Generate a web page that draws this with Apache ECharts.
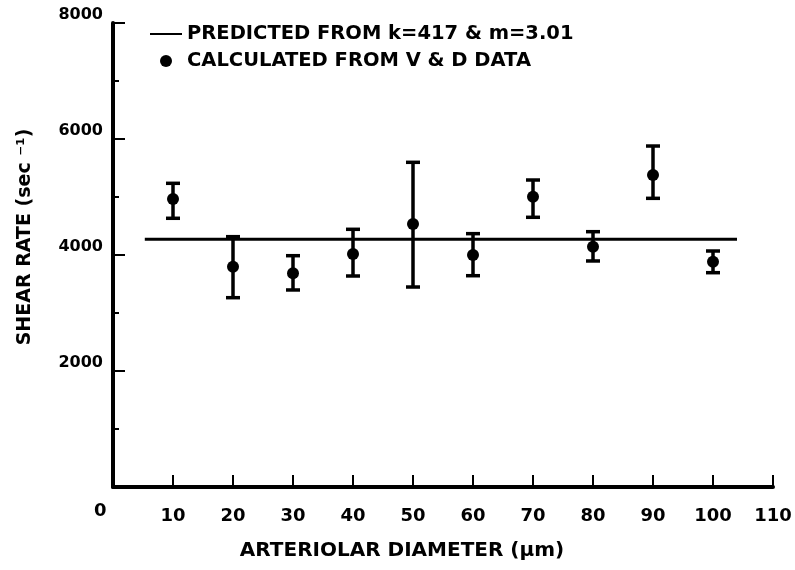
<!DOCTYPE html>
<html>
<head>
<meta charset="utf-8">
<script src="https://cdn.jsdelivr.net/npm/echarts@6/dist/echarts.min.js"></script>
<style>
  html, body { margin: 0; padding: 0; background: #fff; }
  #shearChart { width: 795px; height: 570px; }
</style>
</head>
<body>
<div id="shearChart"></div>
<script>
// arteriolar diameter (um) and shear rate (1/sec)
var diameters = [10, 20, 30, 40, 50, 60, 70, 80, 90, 100];
var shearRate = [4966, 3798, 3684, 4017, 4534, 4000, 5005, 4143, 5379, 3885];
var errHigh   = [5236, 4316, 3988, 4443, 5598, 4368, 5293, 4402, 5879, 4069];
var errLow    = [4633, 3264, 3397, 3638, 3448, 3643, 4650, 3897, 4977, 3695];
// predicted line (k=417, m=3.01)
var predictedX = [5.3, 104];
var predictedY = [4270, 4270];

var FONT = 'DejaVu Sans';
var LINE_NAME = 'PREDICTED FROM k=417 & m=3.01';
var DOT_NAME = 'CALCULATED FROM V & D DATA';

var pointData = diameters.map(function (d, i) { return [d, shearRate[i]]; });
var errorData = diameters.map(function (d, i) { return [d, errLow[i], errHigh[i]]; });
var lineData = predictedX.map(function (x, i) { return [x, predictedY[i]]; });

var myChart = echarts.init(document.getElementById('shearChart'));
var option = {
    backgroundColor: '#fff',
    animation: false,
    grid: { left: 113, right: 22, top: 23, bottom: 83 },
    legend: {
        orient: 'vertical',
        left: 150,
        top: 24,
        padding: 0,
        itemWidth: 32,
        itemHeight: 12,
        itemGap: 7,
        selectedMode: false,
        symbolKeepAspect: true,
        textStyle: { fontFamily: FONT, fontWeight: 'bold', fontSize: 19.5, color: '#000' },
        data: [
            { name: LINE_NAME, icon: 'path://M0,0 L32,0 L32,2 L0,2 Z' },
            { name: DOT_NAME, icon: 'circle' }
        ]
    },
    xAxis: {
        type: 'value',
        min: 0,
        max: 110,
        interval: 10,
        splitLine: { show: false },
        axisLine: { lineStyle: { color: '#000', width: 4 } },
        axisTick: { inside: true, length: 12, lineStyle: { color: '#000', width: 2 } },
        axisLabel: {
            margin: 20,
            fontFamily: FONT, fontWeight: 'bold', fontSize: 18, color: '#000',
            formatter: function (v) { return v === 0 ? '' : v; }
        },
        name: 'ARTERIOLAR DIAMETER (\u03bcm)',
        nameLocation: 'middle',
        nameGap: 54,
        nameTextStyle: {
            fontFamily: FONT, fontWeight: 'bold', fontSize: 20, color: '#000',
            padding: [0, 82, 0, 0]
        }
    },
    yAxis: {
        type: 'value',
        min: 0,
        max: 8000,
        interval: 2000,
        splitLine: { show: false },
        axisLine: { show: true, lineStyle: { color: '#000', width: 4 } },
        axisTick: { show: true, inside: true, length: 12, lineStyle: { color: '#000', width: 2 } },
        minorTick: { show: true, splitNumber: 2, length: 6, lineStyle: { color: '#000', width: 2 } },
        axisLabel: {
            margin: 10,
            verticalAlign: 'bottom',
            fontFamily: FONT, fontWeight: 'bold', fontSize: 16, color: '#000',
            formatter: function (v) { return v === 0 ? '' : v; }
        },
        name: 'SHEAR RATE (sec \u207b\u00b9)',
        nameLocation: 'middle',
        nameRotate: 90,
        nameGap: 78,
        nameTextStyle: {
            fontFamily: FONT, fontWeight: 'bold', fontSize: 19, color: '#000',
            padding: [0, 0, 0, 36]
        }
    },
    graphic: [{
        type: 'text',
        left: 94,
        top: 502,
        style: { text: '0', font: 'bold 18px "DejaVu Sans"', fill: '#000' }
    }],
    series: [
        {
            name: LINE_NAME,
            type: 'line',
            data: lineData,
            symbol: 'none',
            lineStyle: { color: '#000', width: 3 },
            itemStyle: { color: '#000' },
            z: 2
        },
        {
            name: 'error',
            type: 'custom',
            data: errorData,
            renderItem: function (params, api) {
                var x = api.value(0);
                var top = api.coord([x, api.value(2)]);
                var bot = api.coord([x, api.value(1)]);
                var half = 7;
                var st = { stroke: '#000', lineWidth: 3.5 };
                return {
                    type: 'group',
                    children: [
                        { type: 'line', shape: { x1: top[0], y1: top[1], x2: bot[0], y2: bot[1] }, style: st },
                        { type: 'line', shape: { x1: top[0] - half, y1: top[1], x2: top[0] + half, y2: top[1] }, style: st },
                        { type: 'line', shape: { x1: bot[0] - half, y1: bot[1], x2: bot[0] + half, y2: bot[1] }, style: st }
                    ]
                };
            },
            z: 3
        },
        {
            name: DOT_NAME,
            type: 'scatter',
            data: pointData,
            symbol: 'circle',
            symbolSize: 12,
            itemStyle: { color: '#000', opacity: 1 },
            z: 4
        }
    ]
};
myChart.setOption(option);
</script>
</body>
</html>
